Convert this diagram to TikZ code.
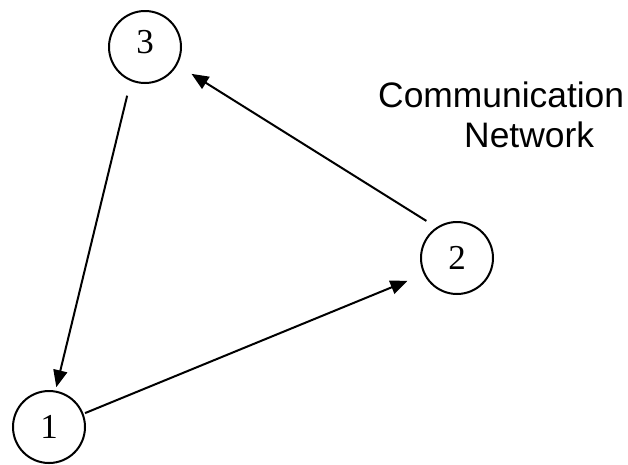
\documentclass[tikz,border=0pt]{standalone}
\usepackage{fontspec}
\setmainfont{Liberation Serif}
\newfontfamily\netfont{Liberation Sans}
\usetikzlibrary{arrows.meta,positioning}

\begin{document}
\begin{tikzpicture}[
  x=1pt,y=-1pt,
  station/.style={draw,circle,line width=2pt,minimum size=72pt,inner sep=0pt,outer sep=0pt,font=\fontsize{35}{35}\selectfont},
  link/.style={-{Triangle[length=17pt,width=14pt]},line width=2pt},
  caption/.style={anchor=base west,inner sep=0pt,font=\netfont\fontsize{35.4}{40}\selectfont}
]
\useasboundingbox (0,0) rectangle (628,464);
\node[station] (n3) at (145,47) {\raisebox{10pt}{3}};
\node[station] (n2) at (457,258) {\raisebox{-8pt}{2}};
\node[station] (n1) at (49,427) {\raisebox{-14pt}{1}};
\draw[link,shorten <=16pt,shorten >=4.5pt] (n3.247) -- (n1.80);
\draw[link,shorten <=2.6pt,shorten >=18.6pt] (n1.21) -- (n2.206);
\draw[link,shorten <=13pt,shorten >=17.7pt] (n2.123) -- (n3.-29);
\node[caption] (title) at (378,107) {Communication};
\node[caption] (subtitle) at (464,147) {Network};
\end{tikzpicture}
\end{document}
